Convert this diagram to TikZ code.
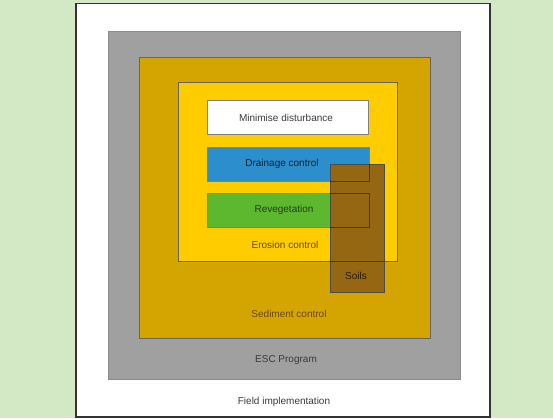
\documentclass[tikz,border=0pt]{standalone}
\usepackage{fontspec}
\setmainfont{Liberation Sans}
\definecolor{bggreen}{HTML}{D3E8C5}
\definecolor{escgray}{HTML}{A0A0A0}
\definecolor{sedyellow}{HTML}{D4A500}
\definecolor{eroyellow}{HTML}{FFCC00}
\definecolor{drainblue}{HTML}{2D8ECC}
\definecolor{revgreen}{HTML}{5DB830}
\definecolor{soilbrown}{HTML}{966713}
\definecolor{txtdark}{HTML}{3A3A3A}
\definecolor{txtbrown}{HTML}{6A4600}
\begin{document}
\begin{tikzpicture}[x=1pt,y=-1pt,
  box/.style={draw=black!70, line width=0.7pt},
  ghost/.style={draw=black, draw opacity=0.45, line width=0.7pt},
  lbl/.style={font=\fontsize{10}{11}\selectfont, inner sep=0pt}]
\useasboundingbox (0,0) rectangle (553,418);
\fill[bggreen] (0,0) rectangle (553,418);
% field implementation panel
\draw[fill=white, draw=black!80, line width=1.5pt] (76,3.5) rectangle (490,417);
\node[lbl, text=txtdark] (field) at (284,402) {Field implementation};
% ESC program
\draw[box, fill=escgray, draw=black!45] (108.5,31) rectangle (460,379);
\node[lbl, text=txtdark] (esc) at (286,360) {ESC Program};
% sediment control
\draw[box, fill=sedyellow, draw=black!60] (139.5,57.5) rectangle (430.5,338.5);
\node[lbl, text=txtbrown] (sed) at (289,314) {Sediment control};
% erosion control
\draw[box, fill=eroyellow, draw=black!60] (178.5,82.5) rectangle (397,261);
\node[lbl, text=txtbrown] (ero) at (285,245) {Erosion control};
% inner boxes
\draw[box, fill=white, draw=black!50] (207,100.5) rectangle (368,134.5);
\node[lbl, text=txtdark] (min) at (286,118) {Minimise disturbance};
\draw[box, fill=drainblue, draw=black!50] (207,147.5) rectangle (369,181);
\node[lbl, text=black!75!drainblue] (drain) at (282,164) {Drainage control};
\draw[box, fill=revgreen, draw=black!50] (207,193) rectangle (369,227.5);
\node[lbl, text=black!65!revgreen] (reveg) at (284,210) {Revegetation};
% soils
\draw[draw=black!70, line width=0.7pt, fill=soilbrown] (330,164.5) rectangle (384,292.5);
\begin{scope}
\clip (330,164.5) rectangle (384,292.5);
\draw[ghost] (207,147.5) rectangle (369,181);
\draw[ghost] (207,193) rectangle (369,227.5);
\draw[ghost] (178.5,82.5) rectangle (397,261);
\end{scope}
\node[lbl, text=black!75!soilbrown] (soils) at (356,276) {Soils};
\end{tikzpicture}
\end{document}
